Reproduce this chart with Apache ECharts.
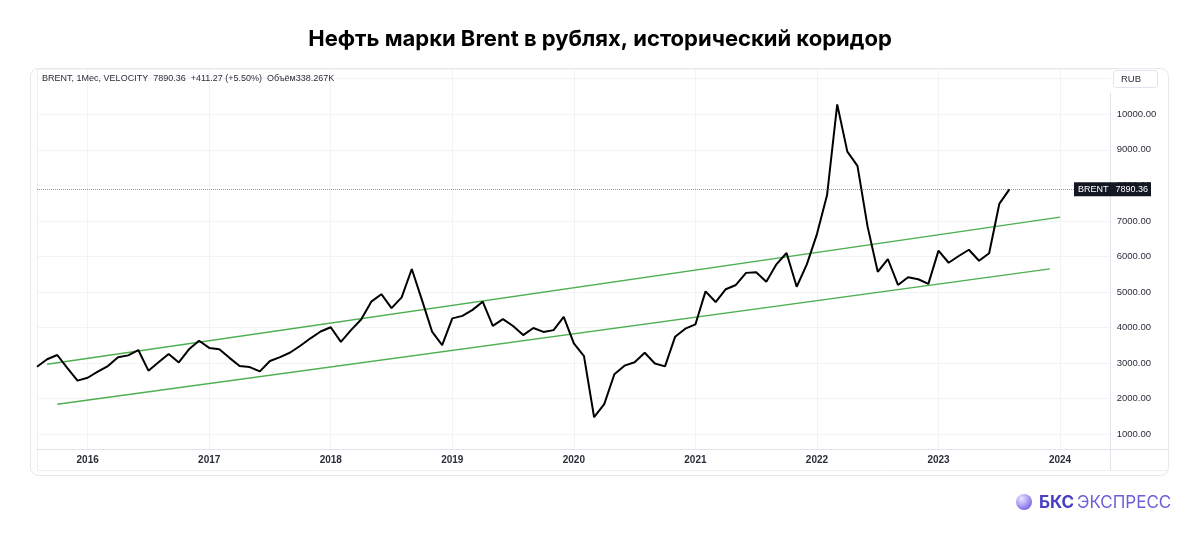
<!DOCTYPE html>
<html>
<head>
<meta charset="utf-8">
<script src="https://cdn.jsdelivr.net/npm/echarts@6/dist/echarts.min.js"></script>
<style>
html,body{margin:0;padding:0;background:#fff;}
#c{width:1200px;height:541px;}
</style>
</head>
<body>
<div id="c"></div>
<script>
// ---- data ----
const titleText = 'Нефть марки Brent в рублях, исторический коридор';
const legendText = 'BRENT, 1Мес, VELOCITY  7890.36  +411.27 (+5.50%)  Объём338.267K';
const firstMonth = [2015, 8];   // first month shown on axis
const lastMonth = [2024, 6];    // last month shown on axis
// monthly close, Aug 2015 .. Aug 2023 (RUB)
const brent2015 = [2900, 3110, 3230, 2860, 2510];
const brent2016 = [2590, 2760, 2920, 3170, 3220, 3370, 2790, 3025, 3260, 3020, 3390, 3630];
const brent2017 = [3430, 3390, 3150, 2920, 2890, 2770, 3060, 3170, 3300, 3490, 3700, 3890];
const brent2018 = [4010, 3600, 3930, 4230, 4730, 4940, 4550, 4850, 5650, 4780, 3890, 3510];
const brent2019 = [4260, 4330, 4500, 4730, 4050, 4240, 4045, 3790, 3990, 3880, 3930, 4300];
const brent2020 = [3560, 3200, 1480, 1850, 2690, 2930, 3025, 3295, 2990, 2910, 3745, 3970];
const brent2021 = [4090, 5020, 4720, 5080, 5200, 5540, 5555, 5290, 5780, 6100, 5150, 5780];
const brent2022 = [6630, 7730, 10280, 8950, 8550, 6840, 5570, 5930, 5200, 5415, 5360, 5230];
const brent2023 = [6165, 5825, 6015, 6190, 5880, 6090, 7479.09, 7890.36];
const lastPrice = 7890.36;
// channel lines: [month, value] endpoints
const upperChannel = [['2015-09', 2970], ['2024-01', 7105]];
const lowerChannel = [['2015-10', 1845], ['2023-12', 5655]];
const yTickLabels = [1000, 2000, 3000, 4000, 5000, 6000, 7000, 8000, 9000, 10000];

// ---- build ----
const months = [];
{
  let y = firstMonth[0], m = firstMonth[1];
  while (y < lastMonth[0] || (y === lastMonth[0] && m <= lastMonth[1])) {
    months.push(y + '-' + String(m).padStart(2, '0'));
    m++; if (m > 12) { m = 1; y++; }
  }
}
const brent = [].concat(brent2015, brent2016, brent2017, brent2018, brent2019, brent2020, brent2021, brent2022, brent2023);
const isJan = (i, v) => String(v).endsWith('-01');

const FONT = "'Liberation Sans', 'Noto Sans', sans-serif";
const chart = echarts.init(document.getElementById('c'), null, {renderer: 'canvas'});

const option = {
  animation: false,
  backgroundColor: '#ffffff',
  grid: {left: 37, right: 89.3, top: 69, bottom: 91.7, containLabel: false},
  xAxis: {
    type: 'category',
    data: months,
    boundaryGap: false,
    axisLine: {show: true, lineStyle: {color: '#e0e3eb', width: 1}},
    axisTick: {show: false},
    axisLabel: {
      interval: isJan,
      formatter: v => v.slice(0, 4),
      color: '#2a2e39',
      fontFamily: FONT,
      fontSize: 10,
      fontWeight: 'bold',
      margin: 6
    },
    splitLine: {show: true, interval: isJan, lineStyle: {color: '#f2f3f6', width: 1}}
  },
  yAxis: {
    type: 'value',
    position: 'right',
    min: 578,
    max: 11274,
    splitNumber: 10,
    axisLine: {show: false},
    axisTick: {show: false},
    axisLabel: {
      color: '#2a2e39',
      fontFamily: FONT,
      fontSize: 9.5,
      margin: 6,
      formatter: v => (yTickLabels.indexOf(v) >= 0 ? v.toFixed(2) : '')
    },
    splitLine: {show: true, lineStyle: {color: '#f2f3f6', width: 1}}
  },
  series: [
    {
      name: 'upper',
      type: 'line',
      data: upperChannel,
      symbol: 'none',
      lineStyle: {color: '#4caf50', width: 1.3},
      z: 3
    },
    {
      name: 'lower',
      type: 'line',
      data: lowerChannel,
      symbol: 'none',
      lineStyle: {color: '#4caf50', width: 1.3},
      z: 3
    },
    {
      name: 'BRENT',
      type: 'line',
      data: brent,
      symbol: 'none',
      lineStyle: {color: '#000000', width: 2},
      z: 5,
      markLine: {
        silent: true,
        symbol: ['none', 'none'],
        label: {show: false},
        lineStyle: {color: '#9598a1', type: [1, 1], width: 1},
        data: [{yAxis: lastPrice}]
      }
    }
  ]
};
chart.setOption(option);

const tagY = chart.convertToPixel({yAxisIndex: 0}, lastPrice);

chart.setOption({
  graphic: [
    // outer frame
    {type: 'rect', shape: {x: 30.5, y: 68.5, width: 1138, height: 407, r: 8}, style: {fill: 'none', stroke: '#e6e8ee', lineWidth: 1}, silent: true, z: 1},
    // pane borders
    {type: 'line', shape: {x1: 37.5, y1: 69, x2: 37.5, y2: 470}, style: {stroke: '#eceef2', lineWidth: 1}, silent: true},
    {type: 'line', shape: {x1: 37, y1: 470.5, x2: 1168, y2: 470.5}, style: {stroke: '#eceef2', lineWidth: 1}, silent: true},
    {type: 'line', shape: {x1: 37, y1: 449.5, x2: 1168, y2: 449.5}, style: {stroke: '#e0e3eb', lineWidth: 1}, silent: true},
    {type: 'line', shape: {x1: 1110.5, y1: 93, x2: 1110.5, y2: 470}, style: {stroke: '#e0e3eb', lineWidth: 1}, silent: true},
    // title
    {type: 'text', left: 'center', top: 28, style: {text: titleText, fontFamily: "Inter, 'Noto Sans', sans-serif", fontWeight: 'bold', fontSize: 22, fill: '#000000'}},
    // legend text
    {type: 'text', x: 42, y: 79, style: {text: legendText, fontFamily: FONT, fontSize: 9, fill: '#2a2e39', verticalAlign: 'middle'}},
    // RUB box
    {type: 'rect', shape: {x: 1113.5, y: 70.5, width: 44, height: 17, r: 3}, style: {fill: '#fff', stroke: '#e0e3eb', lineWidth: 1}},
    {type: 'text', x: 1121, y: 79, style: {text: 'RUB', fontFamily: FONT, fontSize: 9.5, fill: '#2a2e39', verticalAlign: 'middle'}},
    // last price tag
    {type: 'rect', shape: {x: 1074, y: tagY - 7, width: 77, height: 14}, style: {fill: '#131722'}, z: 50},
    {type: 'text', x: 1078, y: tagY, style: {text: 'BRENT', fontFamily: FONT, fontSize: 9, fill: '#ffffff', verticalAlign: 'middle'}, z: 51},
    {type: 'text', x: 1148, y: tagY, style: {text: lastPrice.toFixed(2), fontFamily: FONT, fontSize: 9, fill: '#ffffff', verticalAlign: 'middle', align: 'right'}, z: 51},
    // logo
    {type: 'circle', shape: {cx: 1024, cy: 502, r: 8}, style: {fill: new echarts.graphic.RadialGradient(0.35, 0.3, 0.9, [{offset: 0, color: '#e9e6ff'}, {offset: 0.5, color: '#a79bf2'}, {offset: 1, color: '#5b48d6'}])}},
    {type: 'text', x: 1039, y: 503, style: {text: 'БКС', fontFamily: "Inter, 'Noto Sans', sans-serif", fontWeight: 'bold', fontSize: 17, fill: '#4a3fc4', verticalAlign: 'middle'}},
    {type: 'text', x: 1077, y: 503, style: {text: 'ЭКСПРЕСС', fontFamily: "Inter, 'Noto Sans', sans-serif", fontSize: 17, fill: '#6a60da', verticalAlign: 'middle'}}
  ]
});
</script>
</body>
</html>
